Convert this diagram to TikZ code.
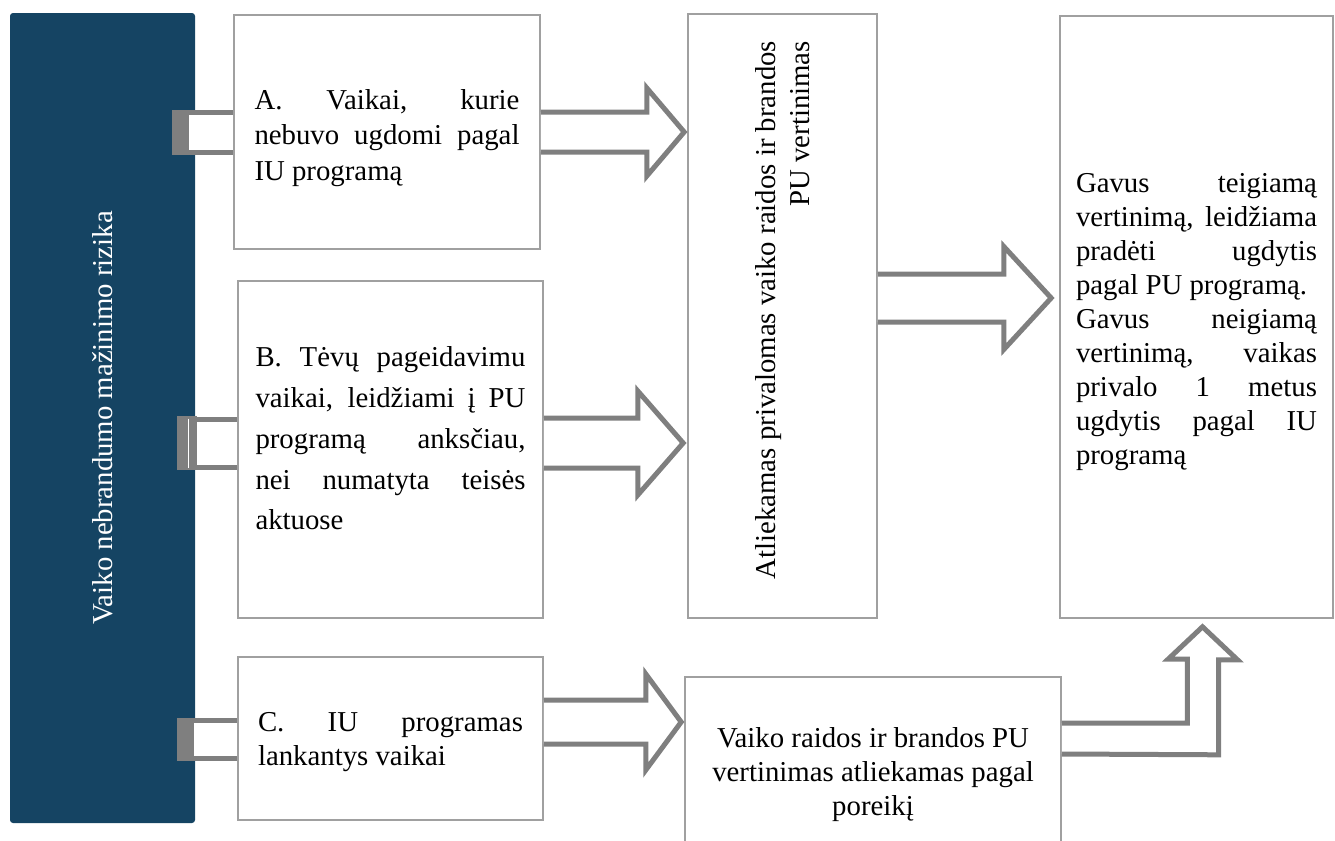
\documentclass[tikz,border=0pt]{standalone}
\usepackage{fontspec}
\setmainfont{Liberation Serif}
\usepackage{tikz}
\usetikzlibrary{calc}
\definecolor{sidenavy}{RGB}{21,68,99}
\definecolor{arrowgray}{RGB}{127,127,127}
\definecolor{edgegray}{RGB}{160,160,160}
\hyphenpenalty=10000
\exhyphenpenalty=10000
\tikzstyle{boxt} = [rectangle, draw=edgegray, line width=0.8pt, fill=white, inner xsep=0pt, font=\fontsize{14.4}{17}\selectfont]
\tikzstyle{boxc} = [rectangle, draw=edgegray, line width=0.8pt, fill=white, align=center, font=\fontsize{14.4}{17}\selectfont]
\tikzstyle{side} = [rectangle, rounded corners=1.5pt, fill=sidenavy, text=white, font=\fontsize{14.4}{17}\selectfont]
\tikzstyle{hollow} = [draw=arrowgray, line width=2.5pt, fill=white]
\tikzstyle{tail} = [fill=arrowgray]

\begin{document}
\begin{tikzpicture}[x=0.5pt, y=-0.5pt]
\useasboundingbox (0,0) rectangle (1335,841);

\node [side, minimum width=92.5pt, minimum height=405pt] (L) at (102.5,418) {\rotatebox{90}{Vaiko nebrandumo mažinimo rizika}};

\node [boxt, minimum width=153pt, minimum height=117pt, font=\fontsize{14.4}{17.75}\selectfont] (A) at (387,132) {\raisebox{-3pt}[\height][\depth]{\parbox{132.5pt}{A. Vaikai, kurie\linebreak nebuvo ugdomi pagal\linebreak IU programą}}};
\node [boxt, minimum width=152.5pt, minimum height=168.5pt, font=\fontsize{14.4}{20.4}\selectfont] (B) at (390.5,449.5) {\raisebox{5.5pt}[\height][\depth]{\parbox{135pt}{B. Tėvų pageidavimu\linebreak vaikai, leidžiami į PU\linebreak programą anksčiau,\linebreak nei numatyta teisės\linebreak aktuose}}};
\node [boxt, minimum width=152.5pt, minimum height=81.5pt] (C) at (390.5,738.5) {\raisebox{-2pt}[\height][\depth]{\parbox{132.5pt}{C. IU programas\linebreak lankantys vaikai}}};

\node [boxc, minimum width=94.5pt, minimum height=302pt] (M) at (782.5,316) {\rotatebox{90}{\parbox{275pt}{\raggedleft Atliekamas privalomas vaiko raidos ir brandos\\ PU vertinimas}}};
\node [boxt, minimum width=136.5pt, minimum height=301pt] (R) at (1196.5,317) {\raisebox{-2.75pt}[\height][\depth]{\parbox{120.5pt}{Gavus teigiamą\linebreak vertinimą, leidžiama\linebreak pradėti ugdytis\linebreak pagal PU programą.\par Gavus neigiamą\linebreak vertinimą, vaikas\linebreak privalo 1 metus\linebreak ugdytis pagal IU\linebreak programą}}};
\node [boxc, minimum width=188pt, minimum height=95pt] (P) at (873,772) {\raisebox{-1.5pt}[\height][\depth]{\parbox{180pt}{\centering Vaiko raidos ir brandos PU\\ vertinimas atliekamas pagal\\ poreikį}}};

\draw [hollow] ($(A.west)+(0,-20)$) -- ++(-58,0) -- ++(0,40) -- ++(58,0);
\fill [tail] ($(A.west)+(-61,-22.5)$) rectangle ($(A.west)+(-44,22.5)$);
\draw [hollow] ($(B.west)+(0,-30.5)$) -- ++(-57.5,0) -- ++(0,48) -- ++(57.5,0);
\fill [tail] ($(B.west)+(-60,-33.5)$) rectangle ($(B.west)+(-40,20.5)$);
\draw [white, line width=0.4pt] ($(B.west)+(-49,-31)$) -- ++(0,49);
\draw [hollow] ($(C.west)+(0,-18)$) -- ++(-57.5,0) -- ++(0,38) -- ++(57.5,0);
\fill [tail] ($(C.west)+(-60,-20.5)$) rectangle ($(C.west)+(-43,22.5)$);

\draw [hollow] ($(A.east)+(0,-20)$) -- ++(106,0) -- ++(0,-24) -- ($(A.east -| M.west)+(-3,0)$) -- ($(A.east)+(106,44)$) -- ++(0,-24) -- ($(A.east)+(0,20)$);
\draw [hollow] ($(B.east)+(0,-31.5)$) -- ++(94,0) -- ++(0,-27) -- ($(B.east -| M.west)+(-4,-6.5)$) -- ($(B.east)+(94,45.5)$) -- ++(0,-27) -- ($(B.east)+(0,18.5)$);
\draw [hollow] ($(C.east)+(0,-38.5)$) -- ++(102,0) -- ++(0,-26) -- ($(C.east -| P.west)+(-3,-16.5)$) -- ($(C.east)+(102,31.5)$) -- ++(0,-26) -- ($(C.east)+(0,5.5)$);
\draw [hollow] ($(M.east)+(0,-42)$) -- ++(126,0) -- ++(0,-27.5) -- ($(M.east -| R.west)+(-8,-18)$) -- ($(M.east)+(126,33.5)$) -- ++(0,-27.5) -- ($(M.east)+(0,6)$);
\draw [hollow] ($(P.east)+(0,-49)$) -- ++(125.5,0) -- ++(0,-64) -- ++(-19,0) -- ($(R.south)+(6,8)$) -- ++(35,33) -- ++(-19,0) -- ++(0,95) -- ($(P.east)+(0,-18)$);

\end{tikzpicture}
\end{document}
